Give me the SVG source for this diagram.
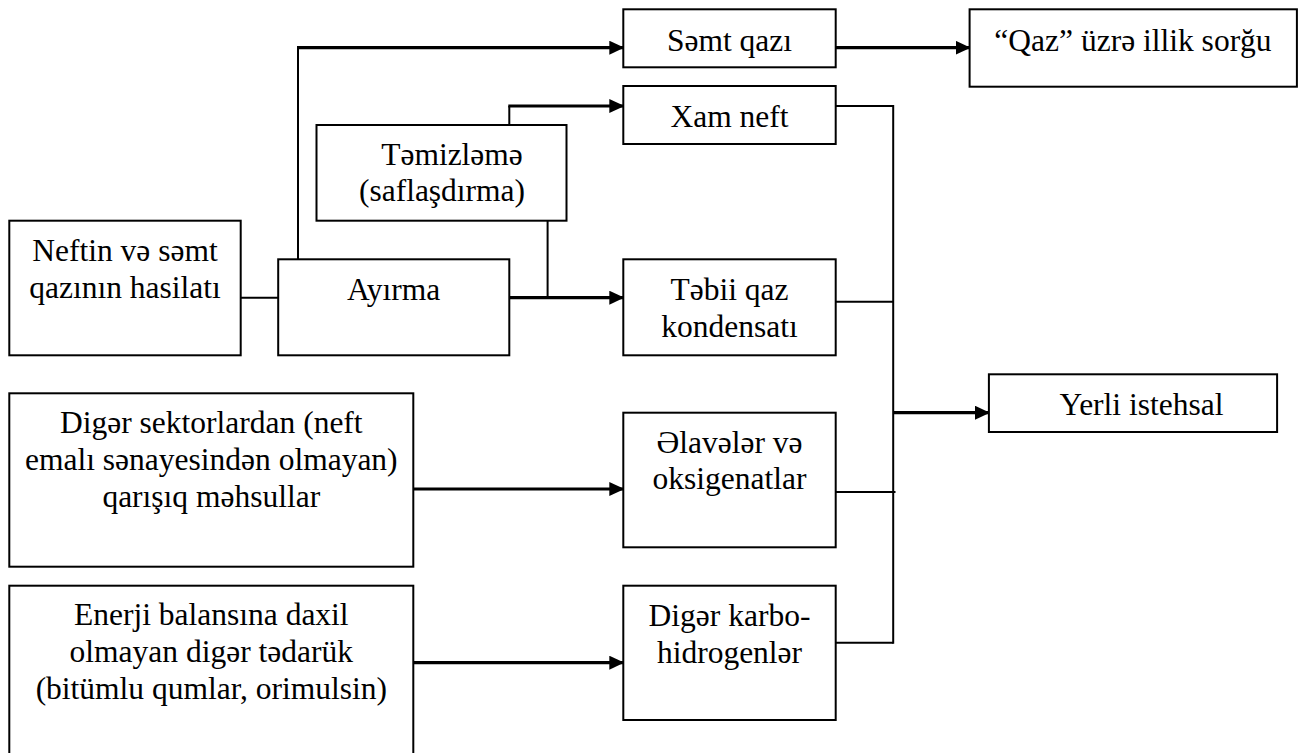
<svg xmlns="http://www.w3.org/2000/svg" width="1304" height="753" viewBox="0 0 1304 753">
  <style>
    .box { fill: #ffffff; stroke: #000000; stroke-width: 2; }
    text { font-family: 'Liberation Serif', 'Times New Roman', serif; font-size: 31.5px; fill: #000000; text-anchor: middle; }
    .thin { fill: none; stroke: #000000; stroke-width: 2; }
    .thick { fill: none; stroke: #000000; stroke-width: 3.2; }
  </style>
  <defs>
    <marker id="arrow" markerUnits="userSpaceOnUse" markerWidth="15" markerHeight="14" refX="14" refY="7" orient="auto">
      <path d="M0,0 L15,7 L0,14 Z" fill="#000000"/>
    </marker>
  </defs>
  <rect width="1304" height="753" fill="#ffffff"/>

  <g id="connectors">
    <!-- production to separation -->
    <line class="thin" x1="240.7" y1="297.7" x2="278.2" y2="297.7"/>
    <!-- separation up to associated gas -->
    <line class="thin" x1="298" y1="259.3" x2="298" y2="47.7"/>
    <line class="thick" x1="297" y1="47.7" x2="623.3" y2="47.7" marker-end="url(#arrow)"/>
    <!-- associated gas to annual survey -->
    <line class="thick" x1="835.7" y1="47.7" x2="969.6" y2="47.7" marker-end="url(#arrow)"/>
    <!-- refining to crude oil -->
    <line class="thin" x1="509.3" y1="125" x2="509.3" y2="106"/>
    <line class="thick" x1="508.3" y1="106" x2="623.3" y2="106" marker-end="url(#arrow)"/>
    <!-- refining down to the separation output -->
    <line class="thin" x1="547.6" y1="220.7" x2="547.6" y2="297.7"/>
    <!-- separation to natural gas condensate -->
    <line class="thick" x1="509.3" y1="297.7" x2="623.3" y2="297.7" marker-end="url(#arrow)"/>
    <!-- other sectors to additives -->
    <line class="thick" x1="413.3" y1="489" x2="623.3" y2="489" marker-end="url(#arrow)"/>
    <!-- other supply to other hydrocarbons -->
    <line class="thick" x1="413.3" y1="662.7" x2="623.3" y2="662.7" marker-end="url(#arrow)"/>
    <!-- collector bus to domestic production -->
    <line class="thin" x1="835.7" y1="106" x2="893.2" y2="106"/>
    <line class="thin" x1="893.2" y1="105" x2="893.2" y2="643.7"/>
    <line class="thin" x1="835.7" y1="301.7" x2="893.2" y2="301.7"/>
    <line class="thin" x1="835.7" y1="492" x2="895.5" y2="492"/>
    <line class="thin" x1="835.7" y1="642.7" x2="893.2" y2="642.7"/>
    <line class="thick" x1="893.2" y1="412.7" x2="988.9" y2="412.7" marker-end="url(#arrow)"/>
  </g>

  <g id="node-hasilat">
    <rect class="box" x="9.3" y="220.7" width="231.4" height="134.6"/>
    <text x="125" y="261">Neftin və səmt</text>
    <text x="125" y="297.7">qazının hasilatı</text>
  </g>

  <g id="node-ayirma">
    <rect class="box" x="278.2" y="259.3" width="231.1" height="96"/>
    <text x="393.7" y="300">Ayırma</text>
  </g>

  <g id="node-temizleme">
    <rect class="box" x="316.5" y="125" width="250" height="95.7"/>
    <text x="452" y="165">Təmizləmə</text>
    <text x="442" y="201">(saflaşdırma)</text>
  </g>

  <g id="node-semt-qazi">
    <rect class="box" x="623.3" y="9.3" width="212.4" height="58"/>
    <text x="729.5" y="50.7">Səmt qazı</text>
  </g>

  <g id="node-qaz-sorgu">
    <rect class="box" x="969.6" y="9.3" width="327.3" height="77.4"/>
    <text x="1133" y="50.7">“Qaz” üzrə illik sorğu</text>
  </g>

  <g id="node-xam-neft">
    <rect class="box" x="623.3" y="86" width="212.4" height="58"/>
    <text x="729.5" y="126.7">Xam neft</text>
  </g>

  <g id="node-kondensat">
    <rect class="box" x="623.3" y="259.3" width="212.4" height="96"/>
    <text x="729.5" y="300">Təbii qaz</text>
    <text x="729.5" y="336.7">kondensatı</text>
  </g>

  <g id="node-yerli">
    <rect class="box" x="988.9" y="374.3" width="288.2" height="57.7"/>
    <text x="1141.5" y="415">Yerli istehsal</text>
  </g>

  <g id="node-diger-sektorlar">
    <rect class="box" x="9.3" y="393.3" width="404" height="173.4"/>
    <text x="211.3" y="433.3">Digər sektorlardan (neft</text>
    <text x="211.3" y="470">emalı sənayesindən olmayan)</text>
    <text x="211.3" y="506.7">qarışıq məhsullar</text>
  </g>

  <g id="node-elaveler">
    <rect class="box" x="623.3" y="412.7" width="212.4" height="134.6"/>
    <text x="729.5" y="453.3">Əlavələr və</text>
    <text x="729.5" y="489.3">oksigenatlar</text>
  </g>

  <g id="node-enerji">
    <rect class="box" x="9.3" y="585.7" width="404" height="180"/>
    <text x="211.3" y="625">Enerji balansına daxil</text>
    <text x="211.3" y="662">olmayan digər tədarük</text>
    <text x="211.3" y="698.5">(bitümlu qumlar, orimulsin)</text>
  </g>

  <g id="node-diger-karbo">
    <rect class="box" x="623.3" y="585.7" width="212.4" height="134.3"/>
    <text x="729.5" y="626">Digər karbo-</text>
    <text x="729.5" y="662.7">hidrogenlər</text>
  </g>
</svg>
